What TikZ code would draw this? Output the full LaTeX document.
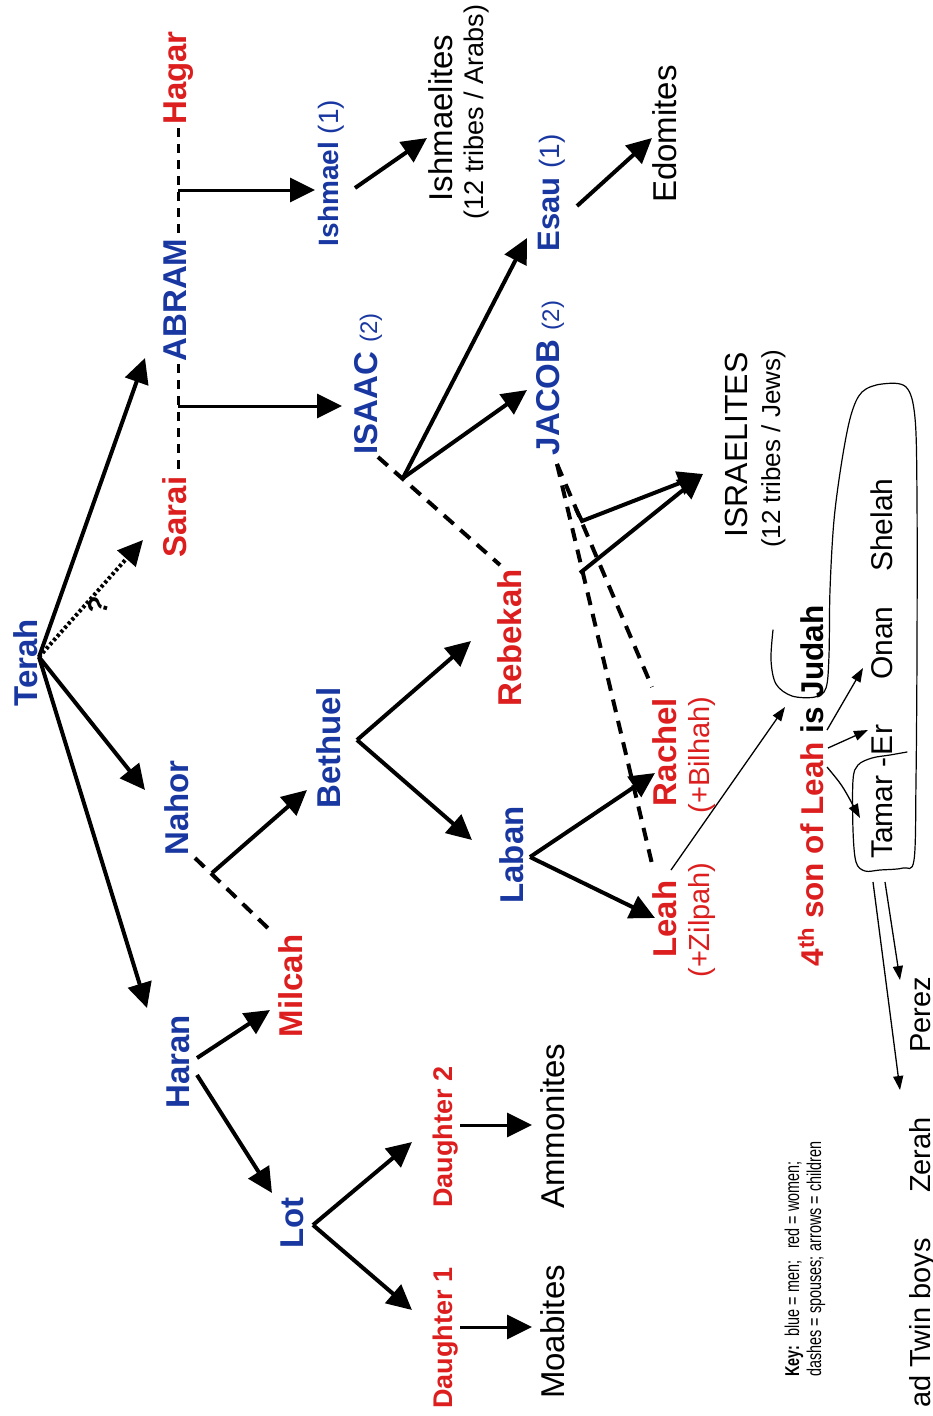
\documentclass[tikz,border=0pt]{standalone}
\usepackage{fontspec}
\setmainfont{Liberation Sans}
\newfontfamily\narrowfont[FakeStretch=0.72]{Liberation Sans}
\usetikzlibrary{arrows.meta}
\definecolor{menblue}{RGB}{25,55,160}
\definecolor{womenred}{RGB}{220,30,30}
\begin{document}
\begin{tikzpicture}[x=1pt,y=-1pt,
  lbl/.style={rotate=90,anchor=base,inner sep=0pt},
  man/.style={lbl,text=menblue,font=\fontsize{33}{36}\selectfont\bfseries},
  woman/.style={lbl,text=womenred,font=\fontsize{33}{36}\selectfont\bfseries},
  folk/.style={lbl,text=black,font=\fontsize{33}{36}\selectfont},
  small/.style={lbl,text=black,font=\fontsize{27}{30}\selectfont},
  kid/.style={lbl,text=black,font=\fontsize{30}{32}\selectfont},
  keytext/.style={lbl,anchor=base west,text=black,font=\narrowfont\fontsize{20}{22}\selectfont},
  arr/.style={line width=4pt,-{Triangle[length=25pt,width=24pt]}},
  midarr/.style={line width=3pt,-{Triangle[length=25pt,width=24pt]}},
  thinarr/.style={line width=1.3pt,-{Triangle[length=14pt,width=10pt]}},
  spouse/.style={line width=4pt,dash pattern=on 13pt off 9pt},
  spousethin/.style={line width=3pt,dash pattern=on 9pt off 7pt},
  hand/.style={line width=1.2pt,line join=round,line cap=round}]
\useasboundingbox (0,0) rectangle (933,1416);

% ---------- people ----------
\node[man] (terah) at (37,663) {Terah};
\node[woman] (sarai) at (186,517) {Sarai};
\node[man] (abram) at (186,300) {ABRAM};
\node[woman] (hagar) at (186,78) {Hagar};
\node[man] (nahor) at (188,808) {Nahor};
\node[man] (haran) at (189,1062) {Haran};
\node[woman] (milcah) at (302,986) {Milcah};
\node[man] (lot) at (303,1223) {Lot};
\node[man] (bethuel) at (340,748) {Bethuel};
\node[man,font=\fontsize{28}{30}\selectfont\bfseries] (ishmael) at (338,173) {Ishmael {\mdseries(1)}};
\node[man] (isaac) at (377,384) {ISAAC {\mdseries\fontsize{24}{26}\selectfont(2)}};
\node[man,font=\fontsize{31}{33}\selectfont\bfseries] (esau) at (559,193) {Esau {\mdseries\fontsize{28}{30}\selectfont(1)}};
\node[man] (jacob) at (559,378) {JACOB {\mdseries\fontsize{24}{26}\selectfont(2)}};
\node[woman] (rebekah) at (521,638) {Rebekah};
\node[man] (laban) at (523,855) {Laban};
\node[woman] (rachel) at (676,752) {Rachel};
\node[woman] (leah) at (676,919) {Leah};
\node[lbl,text=womenred,font=\fontsize{29}{31}\selectfont] (bilhah) at (709,755) {(+Bilhah)};
\node[lbl,text=womenred,font=\fontsize{29}{31}\selectfont] (zilpah) at (709,920) {(+Zilpah)};
\node[woman,font=\fontsize{27}{30}\selectfont\bfseries] (d1) at (452,1338) {Daughter 1};
\node[woman,font=\fontsize{27}{30}\selectfont\bfseries] (d2) at (452,1137) {Daughter 2};

% ---------- peoples ----------
\node[folk] (moab) at (564,1332) {Moabites};
\node[folk] (ammon) at (564,1126) {Ammonites};
\node[folk] (ishmaelites) at (452,118) {Ishmaelites};
\node[small] (arabs) at (483,112) {(12 tribes / Arabs)};
\node[folk] (edom) at (676,134) {Edomites};
\node[folk,font=\fontsize{32}{34}\selectfont] (israel) at (747,445) {ISRAELITES};
\node[small,font=\fontsize{26}{28}\selectfont] (jews) at (780,449) {(12 tribes / Jews)};

% ---------- Judah ----------
\node[lbl,font=\fontsize{31.5}{34}\selectfont\bfseries] (judahline) at (823,786)
  {\textcolor{womenred}{4\textsuperscript{th} son of Leah} is Judah};
\node[kid] (shelah) at (892,525) {Shelah};
\node[kid] (onan) at (892,643) {Onan};
\node[kid] (er) at (892,740) {Er};
\node[kid] (tamar) at (892,808) {Tamar -};
\node[kid,font=\fontsize{29}{31}\selectfont] (perez) at (930,1015) {Perez};
\node[kid,font=\fontsize{29}{31}\selectfont] (zerah) at (930,1155) {Zerah};
\node[kid,font=\fontsize{29}{31}\selectfont,anchor=base east] (twins) at (930,1238) {ad Twin boys};

% ---------- key ----------
\node[keytext] (key1) at (799,1377) {\textbf{Key:}\hspace{9pt}blue = men;\hspace{12pt}red = women;};
\node[keytext] (key2) at (821,1377) {dashes = spouses;\hspace{5pt}arrows = children};

% ---------- question mark ----------
\node[lbl,anchor=center,rotate=-15,font=\fontsize{28}{30}\selectfont\bfseries] (q) at (98,606) {?};

% ---------- junction / end coordinates ----------
\coordinate (tO) at (39,657);
\coordinate (abramIn) at (145,358);
\coordinate (saraiIn) at (143,540);
\coordinate (nahorIn) at (145,790);
\coordinate (haranIn) at (147,1008);
\coordinate (hagarS) at (178,128);
\coordinate (abramN) at (178,236);
\coordinate (abramS) at (178,364);
\coordinate (saraiN) at (178,476);
\coordinate (ishJ) at (178,190);
\coordinate (ishmaelIn) at (315,190);
\coordinate (isJ) at (178,406);
\coordinate (isaacIn) at (342,406);
\coordinate (ishOut) at (355,188);
\coordinate (ishitesIn) at (427,138);
\coordinate (nahorS) at (195,858);
\coordinate (milcahN) at (272,932);
\coordinate (nmJ) at (212,873);
\coordinate (bethuelIn) at (307,790);
\coordinate (hOut1) at (197,1058);
\coordinate (hOut2) at (197,1075);
\coordinate (milcahIn) at (270,1010);
\coordinate (lotIn) at (272,1193);
\coordinate (lotJ) at (313,1225);
\coordinate (d2In) at (412,1142);
\coordinate (d1In) at (412,1310);
\coordinate (d1Out) at (460,1327);
\coordinate (moabIn) at (532,1327);
\coordinate (d2Out) at (460,1125);
\coordinate (ammonIn) at (532,1125);
\coordinate (bJ) at (357,740);
\coordinate (rebekahIn) at (471,641);
\coordinate (labanIn) at (472,840);
\coordinate (isaacS) at (378,457);
\coordinate (rebekahN) at (500,565);
\coordinate (irJ) at (403,478);
\coordinate (esauIn) at (527,238);
\coordinate (jacobIn) at (527,390);
\coordinate (esauOut) at (577,206);
\coordinate (edomIn) at (652,138);
\coordinate (lJ) at (530,857);
\coordinate (rachelIn) at (655,773);
\coordinate (leahIn) at (655,918);
\coordinate (jacobS) at (557,464);
\coordinate (rachelN) at (652,687);
\coordinate (leahN) at (653,868);
\coordinate (isr1a) at (576,509);
\coordinate (isr1b) at (582,521);
\coordinate (isr2) at (580,573);
\coordinate (israelIn) at (703,474);
\coordinate (leahOut) at (671,870);
\coordinate (judahIn) at (785,707);
\coordinate (isOut1) at (827,730);
\coordinate (isOut2) at (828,748);
\coordinate (isOut3) at (827,767);
\coordinate (onanIn) at (863,668);
\coordinate (erIn) at (868,730);
\coordinate (tamarIn) at (860,818);
\coordinate (tamarOut1) at (885,882);
\coordinate (tamarOut2) at (873,882);
\coordinate (perezIn) at (900,980);
\coordinate (zerahIn) at (900,1090);

% ---------- Terah's children ----------
\draw[arr] (tO) -- (abramIn);
\draw[line width=4pt,dash pattern=on 3pt off 2.5pt,-{Triangle[length=25pt,width=24pt]}] (tO) -- (saraiIn);
\draw[arr] (tO) -- (nahorIn);
\draw[arr] (tO) -- (haranIn);

% ---------- Abram ----------
\draw[spousethin] (hagarS) -- (abramN);
\draw[spousethin] (abramS) -- (saraiN);
\draw[midarr] (ishJ) -- (ishmaelIn);
\draw[midarr] (isJ) -- (isaacIn);
\draw[arr] (ishOut) -- (ishitesIn);

% ---------- Nahor / Haran ----------
\draw[spouse] (nahorS) -- (milcahN);
\draw[arr] (nmJ) -- (bethuelIn);
\draw[arr] (hOut1) -- (milcahIn);
\draw[arr] (hOut2) -- (lotIn);
\draw[arr] (lotJ) -- (d2In);
\draw[arr] (lotJ) -- (d1In);
\draw[midarr] (d1Out) -- (moabIn);
\draw[midarr] (d2Out) -- (ammonIn);

% ---------- Bethuel / Isaac ----------
\draw[arr] (bJ) -- (rebekahIn);
\draw[arr] (bJ) -- (labanIn);
\draw[spouse] (isaacS) -- (rebekahN);
\draw[arr] (irJ) -- (esauIn);
\draw[arr] (irJ) -- (jacobIn);
\draw[arr] (esauOut) -- (edomIn);

% ---------- Laban / Jacob ----------
\draw[arr] (lJ) -- (rachelIn);
\draw[arr] (lJ) -- (leahIn);
\draw[spouse] (jacobS) -- (rachelN);
\draw[spouse] (jacobS) -- (leahN);
\draw[arr] (isr1a) -- (isr1b) -- (israelIn);
\draw[arr] (isr2) -- (israelIn);

% ---------- Judah ----------
\draw[thinarr] (leahOut) -- (judahIn);
\draw[thinarr] (isOut1) -- (onanIn);
\draw[thinarr] (isOut2) -- (erIn);
\draw[thinarr] (isOut3) .. controls (842,785) .. (tamarIn);
\draw[thinarr] (tamarOut1) -- (perezIn);
\draw[thinarr] (tamarOut2) -- (zerahIn);

% ---------- hand-drawn loop ----------
\draw[hand] plot[smooth,tension=0.55] coordinates {
  (773,630) (771,660) (776,684) (792,696) (815,697) (826,688) (829,655)
  (830,590) (834,520) (842,460) (851,415) (862,392) (882,384) (906,387)
  (915,418) (917,500) (917,650) (916,780) (914,860) (903,868) (880,870)
  (865,871) (856,862) (853,830) (853,780) (858,765) (872,758) (890,755) (907,752)};

\end{tikzpicture}
\end{document}
